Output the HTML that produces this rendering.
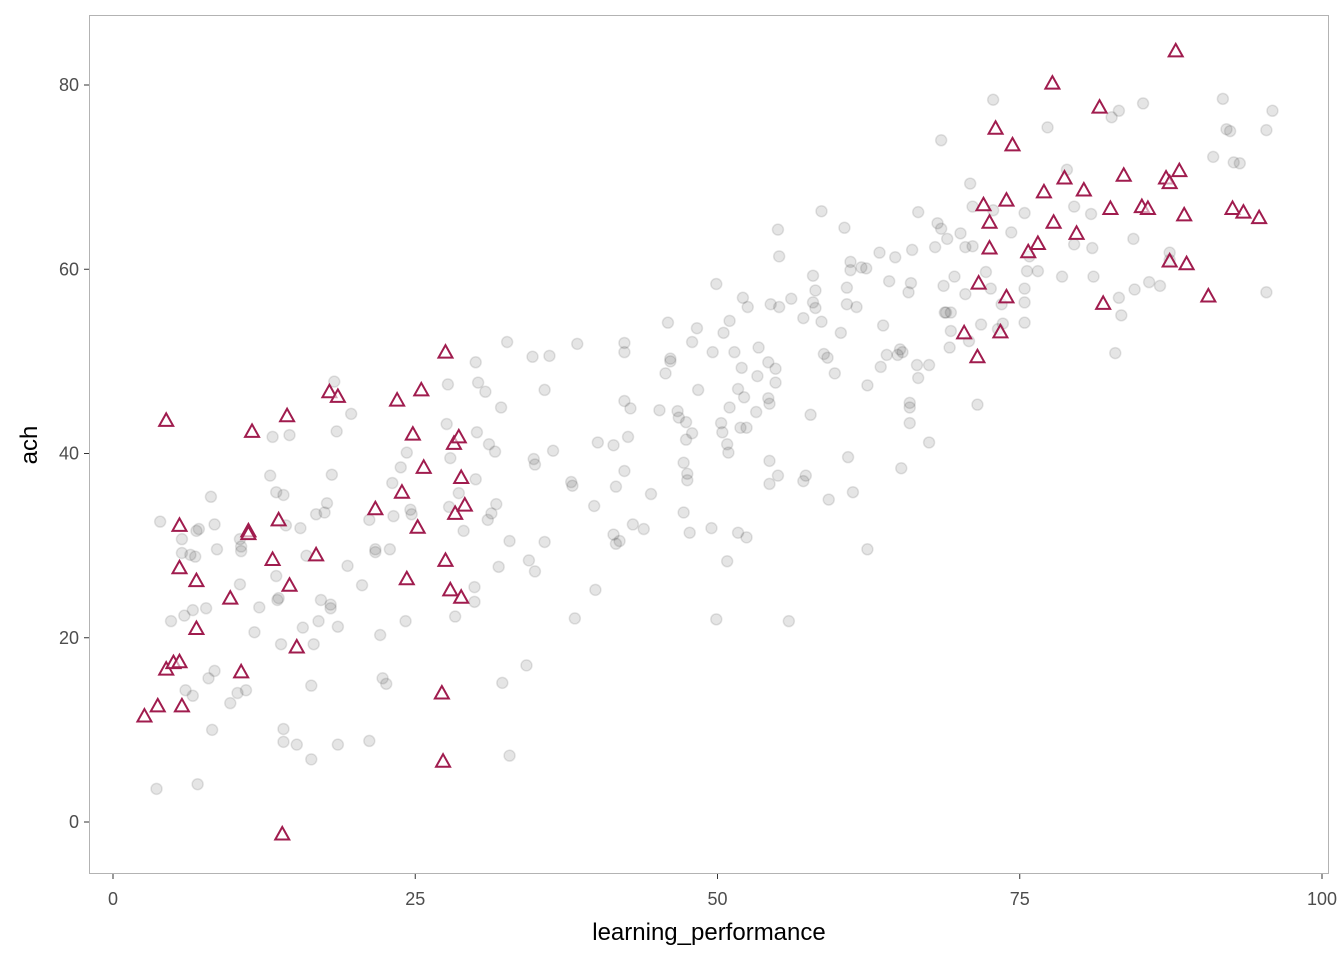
<!DOCTYPE html>
<html><head><meta charset="utf-8"><style>
html,body{margin:0;padding:0;background:#fff;}
svg{display:block;font-family:"Liberation Sans",sans-serif;}
</style></head><body>
<svg id="chart" width="1344" height="960" viewBox="0 0 1344 960"></svg>
<script>
const xTicks=[0,25,50,75,100];
const yTicks=[0,20,40,60,80];
const triPoints=[[2.6,11.5],[3.7,12.6],[4.4,43.6],[4.4,16.6],[5.0,17.3],[5.5,17.4],[5.5,32.2],[5.5,27.6],[5.7,12.6],[6.9,26.2],[6.9,21.0],[9.7,24.3],[10.6,16.3],[11.2,31.6],[11.2,31.3],[11.5,42.4],[13.2,28.5],[13.7,32.8],[14.0,-1.3],[14.4,44.1],[14.6,25.7],[15.2,19.0],[16.8,29.0],[17.9,46.7],[18.6,46.2],[21.7,34.0],[23.5,45.8],[23.9,35.8],[24.3,26.4],[24.8,42.1],[25.2,32.0],[25.5,46.9],[25.7,38.5],[27.2,14.0],[27.3,6.6],[27.5,51.0],[27.5,28.4],[27.9,25.2],[28.2,41.1],[28.3,33.5],[28.6,41.8],[28.8,24.4],[28.8,37.4],[29.1,34.4],
[70.4,53.1],[71.5,50.5],[71.6,58.5],[72.0,67.0],[72.5,62.3],[72.5,65.1],[73.0,75.3],[73.4,53.2],[73.9,57.0],[73.9,67.5],[74.4,73.5],[75.7,61.9],[76.5,62.8],[77.0,68.4],[77.7,80.2],[77.8,65.1],[78.7,69.9],[79.7,63.9],[80.3,68.6],[81.6,77.6],[81.9,56.3],[82.5,66.6],[83.6,70.2],[85.1,66.8],[85.6,66.6],[87.1,69.9],[87.4,69.4],[87.4,60.9],[87.9,83.7],[88.2,70.7],[88.6,65.9],[88.8,60.6],[90.6,57.1],[92.6,66.6],[93.5,66.2],[94.8,65.6]];
const greyPoints=[[3.6,3.6],[3.9,32.6],[4.8,21.8],[5.7,30.7],[5.7,29.2],[5.9,22.4],[6.0,14.3],[6.4,29.0],[6.6,13.7],[6.6,23.0],[6.9,31.6],[7.0,4.1],[7.1,31.8],[6.8,28.8],[7.7,23.2],[7.9,15.6],[8.1,35.3],[8.2,10.0],[8.4,32.3],[8.4,16.4],[8.6,29.6],[9.7,12.9],[10.3,14.0],[10.5,25.8],[10.6,29.4],[10.6,29.9],[10.5,30.7],[11.0,14.3],[11.7,20.6],[12.1,23.3],[13.0,37.6],[13.2,41.8],[13.5,35.8],[13.5,26.7],[13.6,24.1],[13.7,24.3],[13.9,19.3],[14.1,35.5],[14.1,10.1],[14.1,8.7],[14.3,32.2],[14.6,42.0],[15.2,8.4],[15.5,31.9],[15.7,21.1],[16.0,28.9],[16.4,14.8],[16.4,6.8],[16.6,19.3],[16.8,33.4],[17.0,21.8],[17.2,24.1],[17.5,33.6],[17.7,34.6],[18.0,23.6],[18.0,23.2],[18.1,37.7],[18.3,47.8],[18.5,42.4],[18.6,21.2],[18.6,8.4],[19.4,27.8],[19.7,44.3],[20.6,25.7],[21.2,8.8],[21.2,32.8],[21.7,29.6],[21.7,29.3],[22.1,20.3],[22.3,15.6],[22.6,15.0],[22.9,29.6],[23.1,36.8],[23.2,33.2],[23.8,38.5],[24.2,21.8],[24.3,40.1],[24.6,33.9],[24.7,33.4],[27.6,43.2],[27.7,47.5],[27.8,34.2],[27.9,39.5],[28.3,22.3],[28.6,35.7],[29.0,31.6],[29.9,25.5],[29.9,23.9],[30.0,49.9],[30.0,37.2],[30.1,42.3],[30.2,47.7],[30.8,46.7],[31.0,32.8],[31.1,41.0],[31.3,33.5],[31.6,40.2],[31.7,34.5],[31.9,27.7],[32.1,45.0],[32.2,15.1],[32.6,52.1],[32.8,30.5],[32.8,7.2],
[34.2,17.0],[34.4,28.4],[34.7,50.5],[34.8,39.4],[34.9,38.8],[34.9,27.2],[35.7,46.9],[35.7,30.4],[36.1,50.6],[36.4,40.3],[37.9,36.9],[38.0,36.5],[38.2,22.1],[38.4,51.9],[39.8,34.3],[39.9,25.2],[40.1,41.2],[41.4,40.9],[41.4,31.2],[41.6,36.4],[41.6,30.2],[41.9,30.5],[42.3,52.0],[42.3,51.0],[42.3,45.7],[42.3,38.1],[42.6,41.8],[42.8,44.9],[43.0,32.3],[43.9,31.8],[44.5,35.6],[45.2,44.7],[45.7,48.7],[45.9,54.2],[46.1,50.3],[46.1,50.0],[46.7,44.6],[46.8,43.9],[47.2,39.0],[47.2,33.6],[47.4,43.4],[47.4,41.5],[47.5,37.8],[47.5,37.1],[47.7,31.4],[47.9,52.1],[47.9,42.2],[48.3,53.6],[48.4,46.9],[49.5,31.9],[49.6,51.0],[49.9,22.0],[49.9,58.4],[50.3,43.3],[50.4,42.3],[50.5,53.1],[50.8,28.3],[50.8,41.0],[50.9,40.1],[51.0,54.4],[51.0,45.0],[51.4,51.0],[51.7,31.4],[51.7,47.0],[51.9,42.8],[52.0,49.3],[52.1,56.9],[52.2,46.1],[52.4,30.9],[52.4,42.8],[52.5,55.9],[53.2,44.5],[53.3,48.4],[53.4,51.5],[54.2,49.9],[54.2,46.0],[54.3,45.4],[54.3,39.2],[54.3,36.7],[54.4,56.2],[54.8,49.2],[54.8,47.7],[55.0,37.6],[55.0,64.3],[55.1,55.9],[55.1,61.4],[55.9,21.8],[56.1,56.8],[57.1,37.0],[57.1,54.7],[57.3,37.6],[57.7,44.2],[57.9,59.3],[57.9,56.4],[58.1,57.7],[58.1,55.8],[58.6,66.3],[58.6,54.3],[58.8,50.8],[59.1,50.4],[59.2,35.0],[59.7,48.7],[60.2,53.1],[60.5,64.5],[60.7,56.2],[60.7,58.0],[60.8,39.6],[61.0,59.9],[61.0,60.8],[61.2,35.8],[61.5,55.9],[61.9,60.2],[62.3,60.1],[62.4,29.6],[62.4,47.4],[63.4,61.8],[63.5,49.4],[63.7,53.9],[64.0,50.7],[64.2,58.7],[64.7,61.3],[64.9,50.7],[65.1,51.3],[65.2,38.4],[65.3,51.0],[65.8,57.5],[65.9,45.5],[65.9,43.3],[65.9,45.0],[66.0,58.5],[66.1,62.1],[66.5,49.6],[66.6,66.2],[66.6,48.2],[67.5,41.2],[67.5,49.6],[68.0,62.4],[68.2,65.0],[68.5,74.0],[68.5,64.4],[68.7,58.2],[68.8,55.3],[69.0,63.3],[68.9,55.3],[69.2,51.5],[69.3,53.3],[69.3,55.3],[69.6,59.2],[70.1,63.9],[70.5,57.3],[70.5,62.4],[70.8,52.2],[70.9,69.3],[71.1,62.5],[71.1,66.8],[71.5,45.3],[71.8,54.0],[72.2,59.7],[72.6,57.9],[72.8,66.4],[72.8,78.4],[73.2,53.5],[73.5,56.2],[73.6,54.1],[74.3,64.0],[75.4,66.1],[75.4,54.2],[75.4,56.4],[75.4,57.9],[75.6,59.8],[75.8,61.4],[76.5,59.8],[77.3,75.4],[78.5,59.2],[78.9,70.8],[79.5,66.8],[79.5,62.7],[80.9,66.0],[81.0,62.3],[81.1,59.2],[82.6,76.5],[82.9,50.9],[83.2,77.2],[83.2,56.9],[83.4,55.0],[84.4,63.3],[84.5,57.8],[85.2,78.0],[85.7,58.6],[86.6,58.2],[87.4,61.8],[87.4,61.0],[91.0,72.2],[91.8,78.5],[92.1,75.2],[92.4,75.0],[92.7,71.6],[93.2,71.5],[95.4,75.1],[95.4,57.5],[95.9,77.2]];

const NS="http://www.w3.org/2000/svg";
const svg=document.getElementById('chart');
const P={l:89,t:15,r:1329,b:874};
const sx=v=>113+(v-0)*(1322-113)/100;
const sy=v=>822-(v-0)*(822-85)/80;
function mk(tag,attrs,parent){const e=document.createElementNS(NS,tag);for(const k in attrs)e.setAttribute(k,attrs[k]);(parent||svg).appendChild(e);return e;}

const panel=mk('rect',{x:P.l+0.5,y:P.t+0.5,width:P.r-P.l-1,height:P.b-P.t-1,fill:'#fff',stroke:'#b3b3b3','stroke-width':1});



const gp=mk('g',{});


greyPoints.forEach(p=>{
  const c=mk('circle',{cx:sx(p[0]),cy:sy(p[1]),r:5.5,fill:'#000','fill-opacity':0.1,stroke:'#000','stroke-opacity':0.1,'stroke-width':1.5},gp);
  
  
});
const tg=mk('g',{});


triPoints.forEach(p=>{
  const x=sx(p[0]),y=sy(p[1]);
  const t=mk('polygon',{points:`${x},${y-7} ${x+7},${y+5.5} ${x-7},${y+5.5}`,fill:'#fff','fill-opacity':0.6,stroke:'#a01c4e','stroke-width':2,'stroke-linejoin':'miter'},tg);
  
  
});

xTicks.forEach(v=>{
  const x=sx(v);
  const l=mk('line',{x1:x,x2:x,y1:P.b,y2:P.b+5,stroke:'#333','stroke-width':1});
  
  
  const t=mk('text',{x:x,y:905,'text-anchor':'middle','font-size':18,fill:'#4d4d4d'});
  t.textContent=v;
  
  
});
yTicks.forEach(v=>{
  const y=sy(v);
  const l=mk('line',{x1:P.l-5,x2:P.l,y1:y,y2:y,stroke:'#333','stroke-width':1});
  
  
  const t=mk('text',{x:79,y:y+6,'text-anchor':'end','font-size':18,fill:'#4d4d4d'});
  t.textContent=v;
  
  
});
const xt=mk('text',{x:709,y:940,'text-anchor':'middle','font-size':24,fill:'#000'});
xt.textContent='learning_performance';


const yt=mk('text',{x:0,y:0,'text-anchor':'middle','font-size':24,fill:'#000',transform:'translate(37,445) rotate(-90)'});
yt.textContent='ach';


</script>
</body></html>
